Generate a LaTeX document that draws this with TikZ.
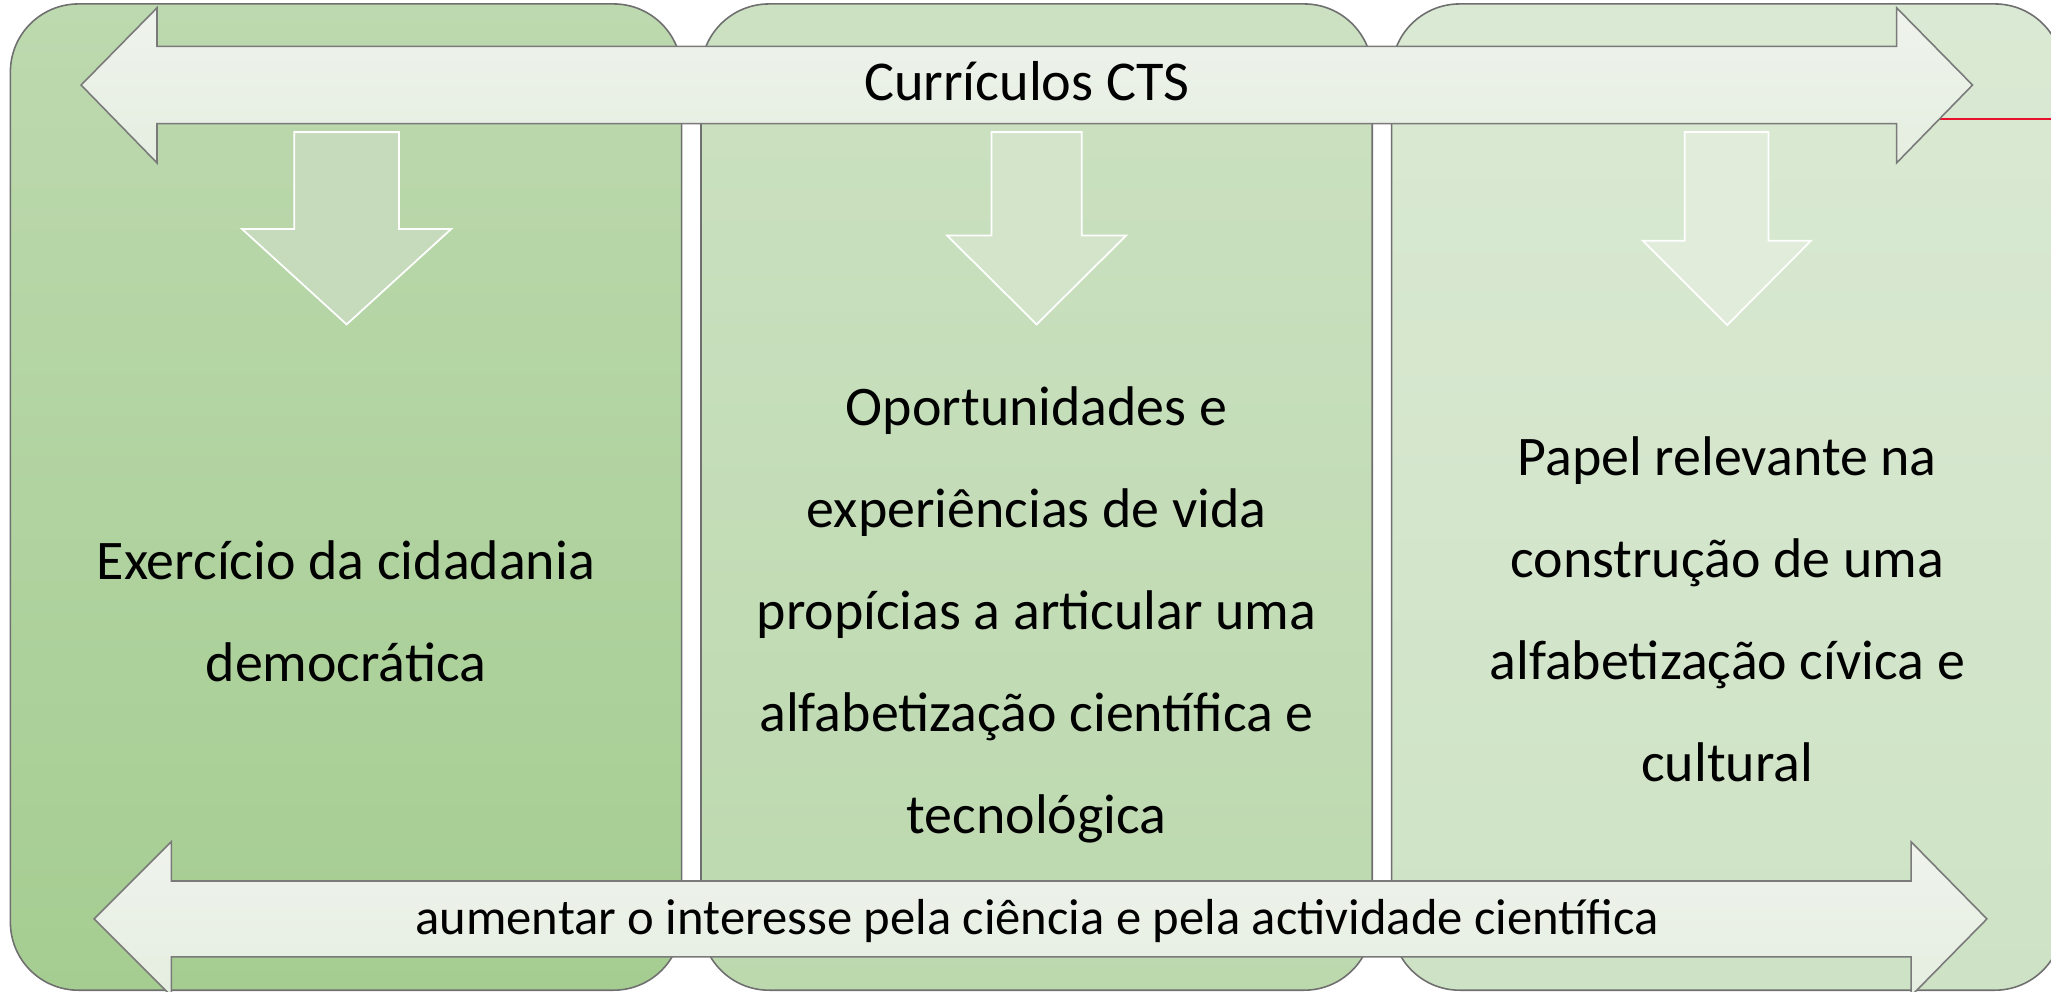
\documentclass[tikz,border=0pt]{standalone}
\usepackage{fontspec}
\setmainfont{Carlito}
\definecolor{pone t}{HTML}{BDD9AF}
\definecolor{pone b}{HTML}{A5CD91}
\definecolor{ptwo t}{HTML}{CCE1C2}
\definecolor{ptwo b}{HTML}{BCD9AE}
\definecolor{pthree t}{HTML}{DAE9D3}
\definecolor{pthree b}{HTML}{CEE3C5}
\definecolor{pborder}{HTML}{6F6F6F}
\definecolor{hat}{HTML}{EFF3ED}
\definecolor{hab}{HTML}{E5EEE0}
\definecolor{haborder}{HTML}{7A7A7A}
\definecolor{dfone}{HTML}{C6DABC}
\definecolor{dftwo}{HTML}{D3E4CB}
\definecolor{dfthree}{HTML}{E1ECDB}
\definecolor{redline}{HTML}{E8112B}
\tikzset{
  panelbox/.style={draw=pborder, line width=0.45pt, rounded corners=0.68cm,
    minimum width=6.71cm, minimum height=9.86cm, inner sep=0pt},
  harrow/.style={draw=haborder, line width=0.45pt, top color=hat, bottom color=hab},
  darrow/.style={draw=white, line width=0.5pt},
  bodytext/.style={align=center, inner sep=0pt, font=\fontsize{15.9}{29}\selectfont},
  titletext/.style={inner sep=0pt, font=\fontsize{16}{19}\selectfont},
  bartext/.style={inner sep=0pt, font=\fontsize{14.4}{18}\selectfont}
}
\begin{document}
\begin{tikzpicture}[x=0.01308cm, y=-0.01308cm]
\useasboundingbox (0,0) rectangle (1568,758);
\begin{scope}
\clip (0,0) rectangle (1568,758);
% panels
\node[panelbox, top color=pone t, bottom color=pone b] (p1) at (264.5,380) {};
\node[panelbox, top color=ptwo t, bottom color=ptwo b] (p2) at (792.5,380) {};
\node[panelbox, top color=pthree t, bottom color=pthree b] (p3) at (1320.5,380) {};
% red line
\coordinate (ra) at (1460,91.3);
\coordinate (rb) at (1570,91.3);
\draw[redline, line width=0.6pt] (ra) -- (rb);
% top double arrow
\path[harrow] (62,65) -- (120,6) -- (120,35.5) -- (1450,35.5) -- (1450,6) -- (1508,65)
  -- (1450,124.5) -- (1450,94.5) -- (120,94.5) -- (120,124.5) -- cycle;
% bottom double arrow
\path[harrow] (72,702.5) -- (131,643.5) -- (131,673.5) -- (1461,673.5) -- (1461,643.5)
  -- (1519,702.5) -- (1461,761.5) -- (1461,731.5) -- (131,731.5) -- (131,761.5) -- cycle;
% down arrows
\path[darrow, fill=dfone] (225,101) -- (305,101) -- (305,175) -- (345,175) -- (265,248)
  -- (185,175) -- (225,175) -- cycle;
\path[darrow, fill=dftwo] (758,101) -- (827,101) -- (827,180) -- (861,180) -- (792.5,248)
  -- (724,180) -- (758,180) -- cycle;
\path[darrow, fill=dfthree] (1288,101) -- (1352,101) -- (1352,184) -- (1384.5,184) -- (1320.5,248.5)
  -- (1256,184) -- (1288,184) -- cycle;
\end{scope}
% texts
\node[titletext] (cts) at (785,62) {Currículos CTS};
\node[bartext] (interesse) at (793,704) {aumentar o interesse pela ciência e pela actividade científica};
\node[bodytext] (t1) at (264.5,467) {Exercício da cidadania\\democrática};
\node[bodytext] (t2) at (792.5,470) {Oportunidades e\\experiências de vida\\propícias a articular uma\\alfabetização científica e\\tecnológica};
\node[bodytext] (t3) at (1320.5,466) {Papel relevante na\\construção de uma\\alfabetização cívica e\\cultural};
\end{tikzpicture}
\end{document}
